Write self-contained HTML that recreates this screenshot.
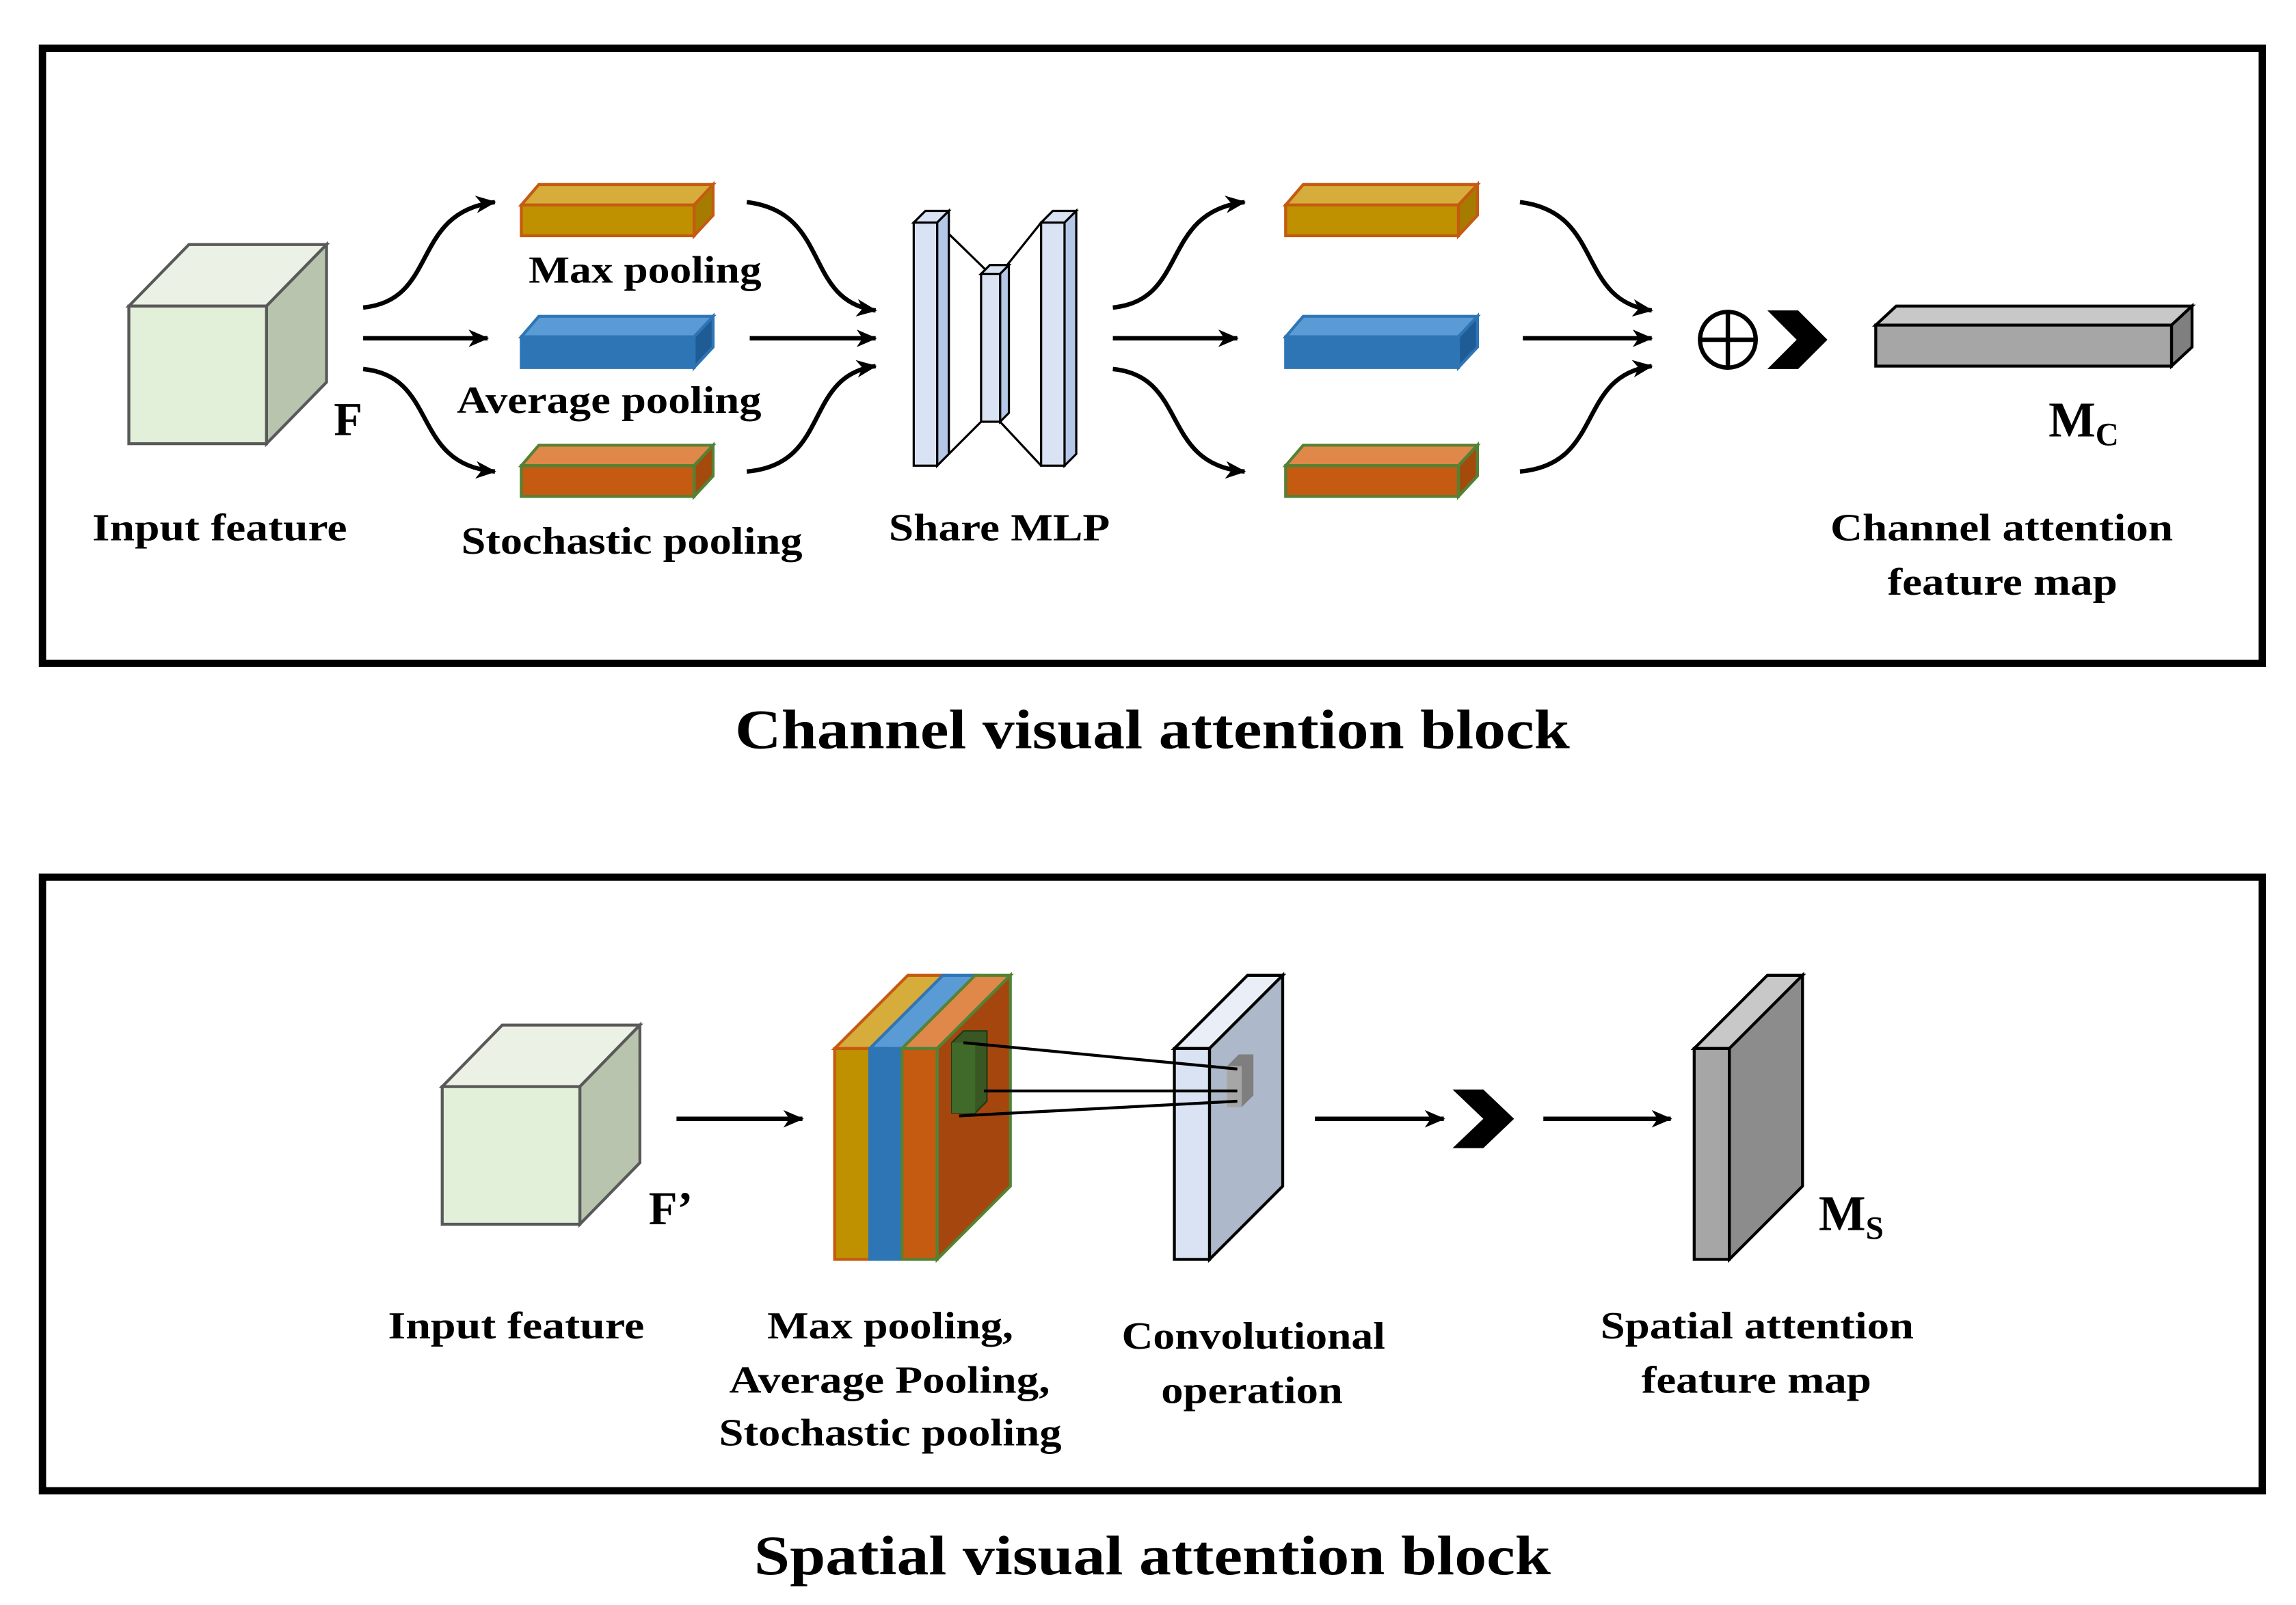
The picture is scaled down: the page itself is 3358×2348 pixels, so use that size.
<!DOCTYPE html>
<html><head><meta charset="utf-8"><style>
html,body{margin:0;padding:0;background:#fff;width:3358px;height:2348px;overflow:hidden}
svg{display:block}
text{font-family:"Liberation Serif",serif;font-weight:bold;fill:#000}
</style></head><body>
<svg width="3358" height="2348" viewBox="0 0 1568 1096" preserveAspectRatio="none" xmlns="http://www.w3.org/2000/svg">
<defs>
<marker id="ah" markerWidth="14" markerHeight="12" refX="13" refY="6" orient="auto" markerUnits="userSpaceOnUse" viewBox="0 0 14 12">
<path d="M0,0 L14,6 L0,12 L4,6 z" fill="#000"/></marker>
</defs>
<rect width="1568" height="1096" fill="#fff"/>
<rect x="29" y="33" width="1516" height="420" fill="none" stroke="#000" stroke-width="5"/>
<text x="502" y="511" font-size="38" textLength="570" lengthAdjust="spacingAndGlyphs">Channel visual attention block</text>

<g stroke="#595959" stroke-width="2">
<polygon points="88,209 129,167 223,167 182,209" fill="#ebf1e4"/>
<polygon points="182,209 223,167 223,261 182,303" fill="#b8c4ae"/>
<rect x="88" y="209" width="94" height="94" fill="#e2efd9"/>
</g>
<text x="228" y="297" font-size="32">F</text>
<text x="63" y="369" font-size="26" textLength="174" lengthAdjust="spacingAndGlyphs">Input feature</text>

<g stroke-width="2">
<g stroke="#c55a11">
<polygon points="356,140 368,126 487,126 474,140" fill="#d6ad3a"/>
<polygon points="474,140 487,126 487,147 474,161" fill="#a67c00"/>
<rect x="356" y="140" width="118" height="21" fill="#bf9000"/>
</g>
<g stroke="#2e75b6">
<polygon points="356,230 368,216 487,216 474,230" fill="#5b9bd5"/>
<polygon points="474,230 487,216 487,237 474,251" fill="#1f5c96"/>
<rect x="356" y="230" width="118" height="21" fill="#2e75b6"/>
</g>
<g stroke="#548235">
<polygon points="356,318 368,304 487,304 474,318" fill="#e0874a"/>
<polygon points="474,318 487,304 487,325 474,339" fill="#a44a0c"/>
<rect x="356" y="318" width="118" height="21" fill="#c55a11"/>
</g>
<g stroke="#c55a11">
<polygon points="878,140 890,126 1009,126 996,140" fill="#d6ad3a"/>
<polygon points="996,140 1009,126 1009,147 996,161" fill="#a67c00"/>
<rect x="878" y="140" width="118" height="21" fill="#bf9000"/>
</g>
<g stroke="#2e75b6">
<polygon points="878,230 890,216 1009,216 996,230" fill="#5b9bd5"/>
<polygon points="996,230 1009,216 1009,237 996,251" fill="#1f5c96"/>
<rect x="878" y="230" width="118" height="21" fill="#2e75b6"/>
</g>
<g stroke="#548235">
<polygon points="878,318 890,304 1009,304 996,318" fill="#e0874a"/>
<polygon points="996,318 1009,304 1009,325 996,339" fill="#a44a0c"/>
<rect x="878" y="318" width="118" height="21" fill="#c55a11"/>
</g>
</g>
<text x="361" y="193" font-size="26" textLength="159" lengthAdjust="spacingAndGlyphs">Max pooling</text>
<text x="312" y="282" font-size="26" textLength="208" lengthAdjust="spacingAndGlyphs">Average pooling</text>
<text x="315" y="378" font-size="26" textLength="233" lengthAdjust="spacingAndGlyphs">Stochastic pooling</text>

<g fill="none" stroke="#000" stroke-width="3" marker-end="url(#ah)">
<path d="M248,210 C300,205 280,145 338,138"/>
<path d="M248,231 L333,231"/>
<path d="M248,252 C300,257 280,317 338,322"/>
<path d="M510,138 C568,145 548,205 598,212"/>
<path d="M512,231 L598,231"/>
<path d="M510,322 C568,317 548,257 598,250"/>
<path d="M760,210 C812,205 792,145 850,138"/>
<path d="M760,231 L845,231"/>
<path d="M760,252 C812,257 792,317 850,322"/>
<path d="M1038,138 C1096,145 1076,205 1128,212"/>
<path d="M1040,231 L1128,231"/>
<path d="M1038,322 C1096,317 1076,257 1128,250"/>
</g>

<g stroke="#000" stroke-width="1.5">
<line x1="640" y1="152" x2="676" y2="187"/>
<line x1="640" y1="318" x2="670" y2="288"/>
<line x1="711" y1="152" x2="683" y2="187"/>
<line x1="711" y1="318" x2="683" y2="288"/>
<g fill="#dae3f3">
<polygon points="624,152 632,144 648,144 640,152"/><polygon points="640,152 648,144 648,310 640,318" fill="#b4c7e7"/><rect x="624" y="152" width="16" height="166"/>
<polygon points="670,187 676,181 689,181 683,187"/><polygon points="683,187 689,181 689,282 683,288" fill="#b4c7e7"/><rect x="670" y="187" width="13" height="101"/>
<polygon points="711,152 719,144 735,144 727,152"/><polygon points="727,152 735,144 735,310 727,318" fill="#b4c7e7"/><rect x="711" y="152" width="16" height="166"/>
</g></g>
<text x="607" y="369" font-size="26" textLength="151" lengthAdjust="spacingAndGlyphs">Share MLP</text>

<circle cx="1180" cy="232" r="19" fill="none" stroke="#000" stroke-width="3"/>
<line x1="1161" y1="232" x2="1199" y2="232" stroke="#000" stroke-width="3"/>
<line x1="1180" y1="213" x2="1180" y2="251" stroke="#000" stroke-width="3"/>
<polygon points="1207,212 1228,212 1248,232 1228,252 1207,252 1227,232" fill="#000"/>

<g stroke="#000" stroke-width="2">
<polygon points="1281,222 1295,209 1497,209 1483,222" fill="#c8c8c8"/>
<polygon points="1483,222 1497,209 1497,237 1483,250" fill="#7f7f7f"/>
<rect x="1281" y="222" width="202" height="28" fill="#a6a6a6"/>
</g>
<text x="1399" y="298" font-size="34">M<tspan font-size="22" dy="6">C</tspan></text>
<text x="1250" y="369" font-size="26" textLength="234" lengthAdjust="spacingAndGlyphs">Channel attention</text>
<text x="1289" y="406" font-size="26" textLength="157" lengthAdjust="spacingAndGlyphs">feature map</text>

<rect x="29" y="599" width="1516" height="419" fill="none" stroke="#000" stroke-width="5"/>
<text x="515" y="1075" font-size="38" textLength="544" lengthAdjust="spacingAndGlyphs">Spatial visual attention block</text>

<g stroke="#595959" stroke-width="2">
<polygon points="302,742 343,700 437,700 396,742" fill="#ebf1e4"/>
<polygon points="396,742 437,700 437,794 396,836" fill="#b8c4ae"/>
<rect x="302" y="742" width="94" height="94" fill="#e2efd9"/>
</g>
<text x="443" y="836" font-size="32">F’</text>
<text x="265" y="914" font-size="26" textLength="175" lengthAdjust="spacingAndGlyphs">Input feature</text>

<g fill="none" stroke="#000" stroke-width="3" marker-end="url(#ah)">
<path d="M462,764 L548,764"/>
<path d="M898,764 L986,764"/>
<path d="M1054,764 L1141,764"/>
</g>

<g stroke-width="2">
<polygon points="570,716 620,666 644,666 594,716" fill="#d6ad3a" stroke="#c55a11"/>
<polygon points="594,716 644,666 666,666 616,716" fill="#5b9bd5" stroke="#2e75b6"/>
<polygon points="616,716 666,666 690,666 640,716" fill="#e0874a" stroke="#548235"/>
<polygon points="640,716 690,666 690,810 640,860" fill="#a5460e" stroke="#548235"/>
<rect x="570" y="716" width="24" height="144" fill="#bf9000" stroke="#c55a11"/>
<rect x="594" y="716" width="22" height="144" fill="#2e75b6" stroke="#2e75b6"/>
<rect x="616" y="716" width="24" height="144" fill="#c55a11" stroke="#548235"/>
</g>
<polygon points="650,712 658,704 674,704 674,752 666,760 650,760" fill="#385723" stroke="#1e3a12" stroke-width="1"/>
<rect x="650" y="712" width="16" height="48" fill="#3f6a2a"/>

<g stroke="#000" stroke-width="2">
<polygon points="802,716 852,666 876,666 826,716" fill="#e9eef7"/>
<polygon points="826,716 876,666 876,810 826,860" fill="#adb9ca"/>
<rect x="802" y="716" width="24" height="144" fill="#dae3f3"/>
</g>
<polygon points="838,728 846,720 856,720 856,748 848,756 838,756" fill="#7f7f7f"/>
<rect x="838" y="728" width="10" height="28" fill="#a6a6a6"/>
<g stroke="#000" stroke-width="2">
<line x1="658" y1="712" x2="845" y2="730"/>
<line x1="672" y1="745" x2="845" y2="745"/>
<line x1="655" y1="762" x2="845" y2="752"/>
</g>

<polygon points="992,744 1013,744 1034,764 1013,784 992,784 1013,764" fill="#000"/>

<g stroke="#000" stroke-width="2">
<polygon points="1157,716 1207,666 1231,666 1181,716" fill="#c8c8c8"/>
<polygon points="1181,716 1231,666 1231,810 1181,860" fill="#8c8c8c"/>
<rect x="1157" y="716" width="24" height="144" fill="#a6a6a6"/>
</g>
<text x="1242" y="840" font-size="34">M<tspan font-size="22" dy="6">S</tspan></text>

<text x="524" y="914" font-size="26" textLength="168" lengthAdjust="spacingAndGlyphs">Max pooling,</text>
<text x="498" y="951" font-size="26" textLength="219" lengthAdjust="spacingAndGlyphs">Average Pooling,</text>
<text x="491" y="987" font-size="26" textLength="234" lengthAdjust="spacingAndGlyphs">Stochastic pooling</text>
<text x="766" y="921" font-size="26" textLength="180" lengthAdjust="spacingAndGlyphs">Convolutional</text>
<text x="793" y="958" font-size="26" textLength="124" lengthAdjust="spacingAndGlyphs">operation</text>
<text x="1093" y="914" font-size="26" textLength="214" lengthAdjust="spacingAndGlyphs">Spatial attention</text>
<text x="1121" y="951" font-size="26" textLength="157" lengthAdjust="spacingAndGlyphs">feature map</text>
</svg>
</body></html>
